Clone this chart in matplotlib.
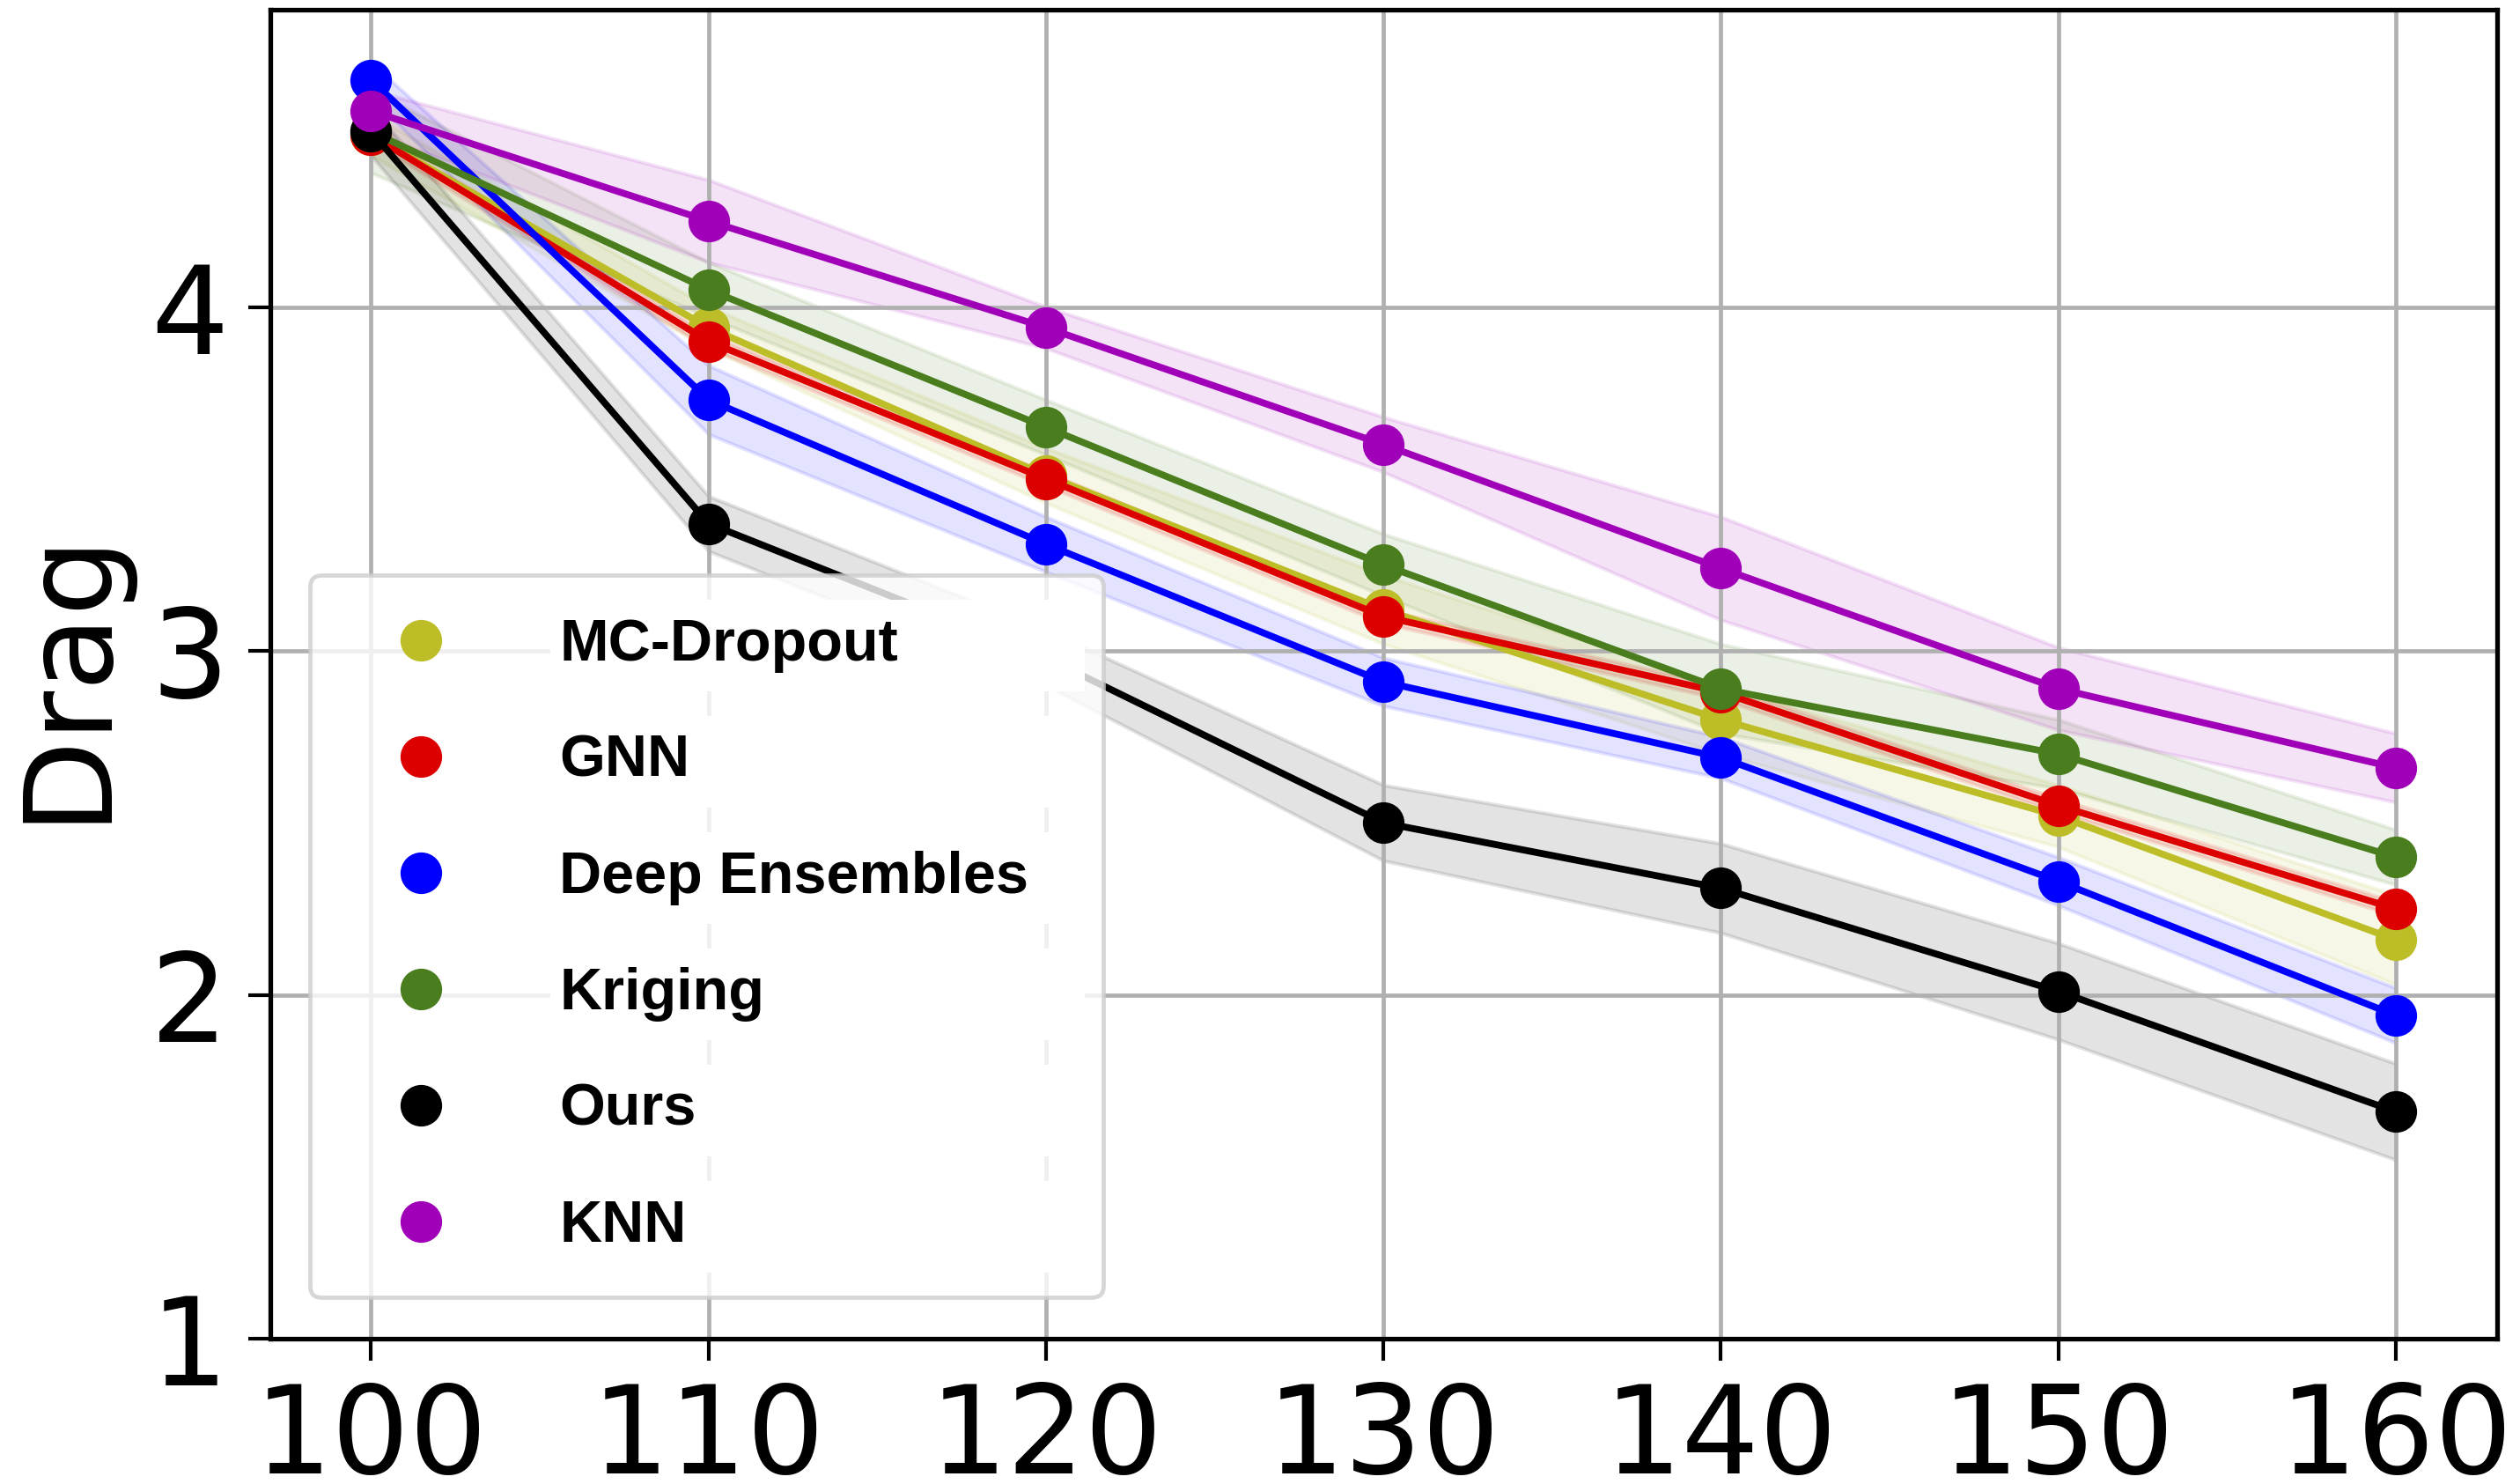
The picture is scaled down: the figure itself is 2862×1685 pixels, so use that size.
import numpy as np
import matplotlib
matplotlib.use("Agg")
import matplotlib.pyplot as plt
from matplotlib.patches import Rectangle

# x positions
x = [100, 110, 120, 130, 140, 150, 160]

# mean drag per method
mc_dropout = [4.50, 3.94, 3.51, 3.12, 2.80, 2.52, 2.16]
gnn = [4.50, 3.90, 3.50, 3.10, 2.88, 2.55, 2.25]
deep_ens = [4.66, 3.73, 3.31, 2.91, 2.69, 2.33, 1.94]
kriging = [4.51, 4.05, 3.65, 3.25, 2.89, 2.70, 2.40]
ours = [4.51, 3.37, 2.98, 2.50, 2.31, 2.01, 1.66]
knn = [4.57, 4.25, 3.94, 3.60, 3.24, 2.89, 2.66]

# half width of the shaded band
mc_std = [0.06, 0.06, 0.08, 0.10, 0.10, 0.09, 0.13]
gnn_std = [0.02, 0.02, 0.02, 0.02, 0.02, 0.02, 0.02]
deep_std = [0.05, 0.10, 0.08, 0.07, 0.06, 0.07, 0.08]
krig_std = [0.12, 0.08, 0.08, 0.09, 0.13, 0.10, 0.08]
ours_std = [0.07, 0.08, 0.08, 0.11, 0.13, 0.14, 0.14]
knn_std = [0.06, 0.12, 0.06, 0.08, 0.15, 0.12, 0.10]

labels = ["MC-Dropout", "GNN", "Deep Ensembles", "Kriging", "Ours", "KNN"]
colors = ["#bdbd28", "#dd0000", "#0000ff", "#4a7d1e", "#000000", "#a000b8"]
means = [mc_dropout, gnn, deep_ens, kriging, ours, knn]
stds = [mc_std, gnn_std, deep_std, krig_std, ours_std, knn_std]

fig = plt.figure(figsize=(14.31, 8.425), dpi=200)
ax = fig.add_axes([0.1071, 0.0979, 0.8838, 0.8957])

for m, s, c, lab in zip(means, stds, colors, labels):
    m = np.array(m)
    s = np.array(s)
    ax.fill_between(x, m - s, m + s, color=c, alpha=0.11, linewidth=1.5)
    ax.plot(x, m, color=c, linewidth=2.8, marker='o', markersize=16, label=lab)

ax.set_xlim(97, 163)
ax.set_ylim(1, 4.865)
ax.set_xticks(x)
ax.set_yticks([1, 2, 3, 4])
ax.tick_params(labelsize=50, length=9, width=1.5, pad=8)
ax.set_ylabel("Drag", fontsize=50, labelpad=10)
ax.grid(True, color='#b0b0b0', linewidth=1.7)
for sp in ax.spines.values():
    sp.set_linewidth(1.9)

leg_handles = [plt.Line2D([], [], linestyle='none', marker='o', markersize=16, color=c)
               for c in colors]
leg = ax.legend(leg_handles, labels, loc='lower left', mode='expand',
                bbox_to_anchor=(0.018, 0.031, 0.356, 0.5), borderaxespad=0,
                prop={'family': 'Liberation Sans', 'weight': 'bold', 'size': 24},
                borderpad=0.74, handlelength=2.3, handletextpad=1.21, labelspacing=1.05)
leg.get_frame().set_linewidth(1.7)

# white strips behind the legend labels, as in the original figure
fig.canvas.draw()
rend = fig.canvas.get_renderer()
fbb = leg.get_frame().get_window_extent(rend)
inv = ax.transAxes.inverted()
for t in leg.get_texts():
    bb = t.get_window_extent(rend)
    yc = 0.5 * (bb.y0 + bb.y1)
    (x0, y0), (x1, y1) = inv.transform([(bb.x0 - 10, yc - 52), (fbb.x1 - 21, yc + 52)])
    ax.add_patch(Rectangle((x0, y0), x1 - x0, y1 - y0, transform=ax.transAxes,
                           facecolor='white', edgecolor='none', zorder=4.5))

fig.savefig("out.png", dpi=200)
